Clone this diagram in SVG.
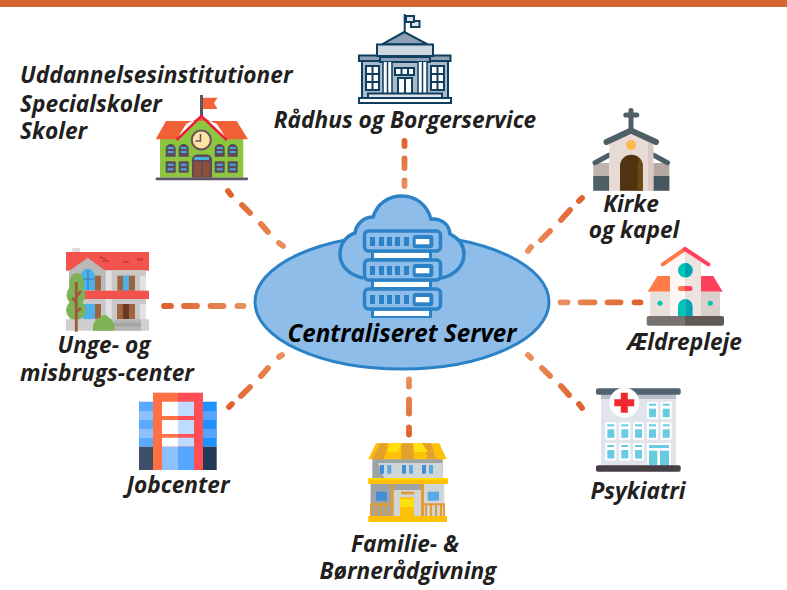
<svg xmlns="http://www.w3.org/2000/svg" xmlns:xlink="http://www.w3.org/1999/xlink" width="787" height="590" viewBox="0 0 787 590">
<style>
text{font-family:"Open Sans","Liberation Sans",sans-serif;font-weight:700;font-style:italic;font-size:22.7px;fill:#231f20}
.c{text-anchor:middle}
.dash{fill:none;stroke-width:5.8;stroke-linecap:round}
.sv{fill:#8dbde8;stroke:#2b82c6;stroke-width:3}
.blue{fill:#2b82c6}
.ln{stroke:#0f3f5f;stroke-width:2}
.win{fill:#5a4a5c}
.pane{fill:#4aa8d8}
.wb{fill:#fff}
.wp{fill:#69cbe0}
.o{fill:#e59a34}
.y{fill:#ffc107}
</style>
<defs>
<linearGradient id="gT" gradientUnits="userSpaceOnUse" x1="405" y1="138" x2="405" y2="189"><stop offset="0" stop-color="#e0602b"/><stop offset="1" stop-color="#e99160"/></linearGradient>
<linearGradient id="gB" gradientUnits="userSpaceOnUse" x1="409" y1="377" x2="409" y2="437"><stop offset="0" stop-color="#e99160"/><stop offset="1" stop-color="#e0602b"/></linearGradient>
<linearGradient id="gL" gradientUnits="userSpaceOnUse" x1="162" y1="306" x2="246" y2="306"><stop offset="0" stop-color="#e0602b"/><stop offset="1" stop-color="#e99160"/></linearGradient>
<linearGradient id="gR" gradientUnits="userSpaceOnUse" x1="558" y1="302" x2="643" y2="302"><stop offset="0" stop-color="#e99160"/><stop offset="1" stop-color="#e0602b"/></linearGradient>
<linearGradient id="gTL" gradientUnits="userSpaceOnUse" x1="226" y1="189" x2="285" y2="248"><stop offset="0" stop-color="#e0602b"/><stop offset="1" stop-color="#e99160"/></linearGradient>
<linearGradient id="gTR" gradientUnits="userSpaceOnUse" x1="584" y1="196" x2="527" y2="253"><stop offset="0" stop-color="#e0602b"/><stop offset="1" stop-color="#e99160"/></linearGradient>
<linearGradient id="gBR" gradientUnits="userSpaceOnUse" x1="526" y1="353" x2="584" y2="410"><stop offset="0" stop-color="#e99160"/><stop offset="1" stop-color="#e0602b"/></linearGradient>
<linearGradient id="gBL" gradientUnits="userSpaceOnUse" x1="284" y1="353" x2="227" y2="409"><stop offset="0" stop-color="#e99160"/><stop offset="1" stop-color="#e0602b"/></linearGradient>
<g id="rack">
<rect x="371" y="250" width="61" height="10" class="blue"/>
<rect x="374" y="252.7" width="55" height="5.3" fill="#fff"/>
<rect class="sv" x="364.5" y="231" width="76" height="20" rx="4" style="stroke-width:3.5"/>
<rect class="blue" x="370" y="237" width="5" height="9"/><rect class="blue" x="379" y="237" width="5" height="9"/><rect class="blue" x="387" y="237" width="5" height="9"/><rect class="blue" x="395" y="237" width="5" height="9"/><rect class="blue" x="404" y="237" width="5" height="9"/>
<rect class="blue" x="412.7" y="235" width="20.6" height="13.3" rx="3"/>
<rect x="415.7" y="239" width="13.6" height="5.3" fill="#fff"/>
</g>
<g id="archW"><path class="win" d="M-5 12.7V5a5 5 0 0 1 10 0v7.7z"/><rect class="pane" x="-3" y="3" width="6" height="2"/><rect class="pane" x="-3" y="7" width="6" height="2"/></g>
<g id="sqW"><rect class="win" x="-5" y="0" width="10" height="11.4" rx="1"/><rect class="pane" x="-3" y="2.5" width="6" height="2"/><rect class="pane" x="-3" y="7" width="6" height="2"/></g>
<g id="hw"><rect class="wb" width="11" height="17.5" rx="1"/><rect class="wp" x="2" y="2" width="7" height="2"/><rect class="wp" x="2" y="7" width="7" height="8.5"/></g>
</defs>
<rect id="topbar" x="0" y="0" width="787" height="7" fill="#d4662f"/>
<g id="connectors">
<path class="dash" stroke="url(#gT)" d="M404.5 141V146M404.5 158.500V168M404.500 180.500V186"/>
<path class="dash" stroke="url(#gB)" d="M409 379.500V386.500M409 399.500V413.500M409 427.500V434.500"/>
<path class="dash" stroke="url(#gL)" d="M164 306H171M184 306H197M210.500 306H223.500M237.500 306H243.500"/>
<path class="dash" stroke="url(#gR)" d="M560.500 302.300H567.500M580.500 302.300H594.500M607.500 302.300H620.500M634.500 302.300H640.500"/>
<path class="dash" stroke="url(#gTL)" d="M228 191L231 195M242 205L250 213M261 224L268 232M279 243L283 246"/>
<path class="dash" stroke="url(#gTR)" d="M582 198L579 201M570 210L561 220M550 231L541 240M531 247L528 251"/>
<path class="dash" stroke="url(#gBR)" d="M528 355L531 358M542 368L550 376M561 386L569 395M579 404L582 408"/>
<path class="dash" stroke="url(#gBL)" d="M282 355L279 357M268 368L261 376M250 387L241 396M232 404L229 407"/>
</g>
<g id="node-server">
<ellipse cx="402" cy="302" rx="147" ry="67" class="sv"/>
<path class="sv" style="stroke-width:3.5" d="M363 278C349 275 340 266 340 254C340 244 346 236 355 233C356 224 364 217 373 217C377 204 388 196 402 196C416 196 427 205 431 219C441 218 449 224 450 234C458 238 464 245 464 254C464 266 454 276 441 278"/>
<use xlink:href="#rack" href="#rack"/>
<use xlink:href="#rack" href="#rack" y="29"/>
<use xlink:href="#rack" href="#rack" y="58"/>
<text class="c" x="402" y="342.300" style="fill:#000;font-size:24.2px">Centraliseret Server</text>
</g>
<g id="node-raadhus">
<path d="M404.700 14V32" class="ln" fill="none"/>
<rect x="411" y="21" width="8.500" height="6" fill="#dfe5ea" class="ln"/>
<rect x="406" y="16" width="8" height="6" fill="#dfe5ea" class="ln"/>
<path d="M404.300 32L382 44.300H427.700z" fill="#8da0b5" class="ln"/>
<rect x="362" y="61" width="86" height="37" fill="#a9bacb" class="ln"/>
<rect x="359" y="55.500" width="91.500" height="5.500" fill="#8da0b5" class="ln"/>
<rect x="377" y="44.500" width="56" height="11.500" fill="#cfd8e0" class="ln"/>
<rect x="380" y="57" width="50" height="5" fill="#8da0b5" class="ln"/>
<rect x="366" y="66" width="13" height="24" fill="#fff" class="ln"/>
<path d="M372.500 66V90M366 74H379M366 82H379" class="ln" fill="none"/>
<rect x="431" y="66" width="13" height="24" fill="#fff" class="ln"/>
<path d="M437.500 66V90M431 74H444M431 82H444" class="ln" fill="none"/>
<rect x="383" y="62" width="9" height="31" fill="#fff"/><path d="M387.500 62V93M383 62V93M392 62V93" class="ln" style="stroke-width:1.5"/>
<rect x="418" y="62" width="9" height="31" fill="#fff"/><path d="M422.500 62V93M418 62V93M427 62V93" class="ln" style="stroke-width:1.5"/>
<rect x="395" y="68" width="19" height="7" fill="#fff" class="ln"/><path d="M401.500 68V75M408 68V75" class="ln"/>
<rect x="398" y="78" width="14" height="16" fill="#fff" class="ln"/><path d="M405 78V94" class="ln"/>
<rect x="368" y="93.500" width="74" height="4.500" fill="#dfe5ea" class="ln"/>
<rect x="359" y="98" width="92" height="5" fill="#fff" class="ln"/>
<text class="c" x="405" y="127.700">Rådhus og Borgerservice</text>
</g>
<g id="node-uddannelse">
<path d="M160 139H176.700L201.300 116L226.700 139H243.300V177.500H160z" fill="#8cc63f"/>
<path d="M155.700 139.300L166 121H188L176.700 139.300zM248 139.300L236.700 121H215L226.700 139.300z" fill="#f26036"/>
<path d="M166 121H236.700L230 130L201.500 117L172 130z" fill="#f26036"/>
<path d="M201.500 95V117" stroke="#5a5568" stroke-width="3" fill="none"/>
<path d="M203 97.700H217.500L214 103L217.500 109H203z" fill="#f4623a"/>
<path d="M176.700 140L201.300 116L226.700 140" fill="none" stroke="#ee1c3a" stroke-width="2.500"/>
<circle cx="201.300" cy="140" r="9.500" fill="#ffe3a0" stroke="#6b4f5f" stroke-width="2"/>
<path d="M200.500 134V141H195.500" fill="none" stroke="#5a5568" stroke-width="1.500"/>
<use xlink:href="#archW" href="#archW" x="170.700" y="144"/><use xlink:href="#archW" href="#archW" x="183.700" y="144"/><use xlink:href="#archW" href="#archW" x="219.700" y="144"/><use xlink:href="#archW" href="#archW" x="232.700" y="144"/>
<use xlink:href="#sqW" href="#sqW" x="170.700" y="161.300"/><use xlink:href="#sqW" href="#sqW" x="183.700" y="161.300"/><use xlink:href="#sqW" href="#sqW" x="219.700" y="161.300"/><use xlink:href="#sqW" href="#sqW" x="232.700" y="161.300"/>
<path d="M192 177.500V160a5 5 0 0 1 5-5.500h10a5 5 0 0 1 5 5.500v17.500z" fill="#5f4a55"/>
<rect x="194.300" y="157" width="14.700" height="3" fill="#4ab0dc"/>
<rect x="194" y="162" width="7" height="15.500" fill="#8b4f3c"/><rect x="202.500" y="162" width="7" height="15.500" fill="#8b4f3c"/>
<rect x="155.700" y="177.500" width="92.300" height="2.700" rx="1" fill="#5a5568"/>
<text x="20" y="83.300">Uddannelsesinstitutioner</text>
<text x="20" y="111.700">Specialskoler</text>
<text x="20" y="139">Skoler</text>
</g>
<g id="node-unge">
<rect x="72.300" y="248" width="7.700" height="9" fill="#ddd"/>
<rect x="66" y="252" width="83" height="18.700" fill="#f4524d"/>
<path d="M100 256l6 2-1 2-6-2zM103 260h6v2h-6zM123 261h6v2h-6zM137 258h6v3h-6z" fill="#c9403c"/>
<rect x="69.300" y="270" width="76.700" height="50" fill="#c8c8c8"/>
<path d="M69 271L87.700 257.700L105.700 271V291H69z" fill="#b9b9b9"/>
<path d="M80.700 290V276a7 7 0 0 1 14.300 0v14z" fill="#4db2e8"/>
<path d="M88 270V290M81 279H95" stroke="#2f7fb8" stroke-width="1.200"/>
<rect x="95" y="275.700" width="6" height="15" fill="#a0633f"/>
<rect x="105.700" y="271" width="6" height="20" fill="#e2e2e2"/>
<rect x="117.300" y="275.700" width="17.700" height="15" fill="#a0633f"/><rect x="123" y="275.700" width="6" height="15" fill="#4db2e8"/>
<rect x="140" y="275.700" width="6" height="15" fill="#e2e2e2"/>
<rect x="83.300" y="290.700" width="65.700" height="8.300" fill="#f4524d"/>
<rect x="83" y="304" width="12" height="15.300" fill="#4db2e8"/>
<rect x="95" y="304" width="6" height="15.300" fill="#a0633f"/>
<rect x="105.700" y="299" width="6" height="20.300" fill="#e2e2e2"/>
<rect x="117" y="304" width="18" height="15.300" fill="#a0633f"/><rect x="123" y="304" width="6" height="15.300" fill="#6b3a22"/>
<rect x="140" y="304" width="6" height="15.300" fill="#e2e2e2"/>
<rect x="66" y="319.300" width="83" height="11.400" fill="#cfcfcf"/>
<rect x="114" y="319.300" width="27" height="11.400" fill="#b5b5b5"/><rect x="114" y="323" width="27" height="3.500" fill="#a5a5a5"/>
<ellipse cx="76.700" cy="283" rx="7.500" ry="10" fill="#7db356"/><ellipse cx="76" cy="295" rx="9.500" ry="10" fill="#7db356"/><ellipse cx="76" cy="310" rx="10" ry="10" fill="#7db356"/>
<path d="M76.300 282V331.700M76.300 297L81 291M76.300 302L72 298M76.300 312L81 308" stroke="#a0593a" stroke-width="2.800" fill="none"/>
<path d="M93 330.700C92 323 96 318 100 318C102 314 107 314 109 318C113 319 116 325 114 330.700z" fill="#7db356"/>
<text class="c" x="104" y="353">Unge- og</text>
<text class="c" x="107" y="380.700">misbrugs-center</text>
</g>
<g id="node-jobcenter">
<rect x="139" y="401.700" width="14" height="45" fill="#5aa9ff"/><rect x="139" y="411" width="14" height="9" fill="#8cc0ff"/><rect x="139" y="429" width="14" height="9" fill="#8cc0ff"/>
<rect x="139" y="446.700" width="14" height="23.300" fill="#3d5068"/>
<rect x="203" y="401.700" width="13.700" height="45" fill="#1e90ff"/><rect x="203" y="411" width="13.700" height="9" fill="#57a5ff"/><rect x="203" y="429" width="13.700" height="9" fill="#57a5ff"/>
<rect x="203" y="446.700" width="13.700" height="23.300" fill="#253a54"/>
<rect x="153" y="392.700" width="25" height="77.300" fill="#ff7043"/><rect x="178" y="392.700" width="25" height="77.300" fill="#ff4f55"/>
<rect x="162" y="401.700" width="16" height="14.300" fill="#fff"/><rect x="178" y="401.700" width="16" height="14.300" fill="#bfdbff"/>
<rect x="162" y="420" width="16" height="14" fill="#fff"/><rect x="178" y="420" width="16" height="14" fill="#bfdbff"/>
<rect x="162" y="437.700" width="16" height="9" fill="#fff"/><rect x="178" y="437.700" width="16" height="9" fill="#bfdbff"/>
<rect x="162" y="446.700" width="16" height="23.300" fill="#8cc0ff"/><rect x="178" y="446.700" width="16" height="23.300" fill="#57a5ff"/>
<text class="c" x="178" y="493.300">Jobcenter</text>
</g>
<g id="node-familie">
<rect x="372.300" y="459" width="70.400" height="20" fill="#9ea4a6"/>
<path d="M378 463H442.700V478H384z" fill="#d0d5d8"/>
<rect x="380" y="465" width="4" height="8.700" fill="#3f8fd8"/><rect x="387.300" y="465" width="4" height="8.700" fill="#5aa9e6"/><rect x="402" y="465" width="4" height="8.700" fill="#3f8fd8"/><rect x="409" y="465" width="4" height="8.700" fill="#5aa9e6"/><rect x="422" y="465" width="4" height="8.700" fill="#3f8fd8"/><rect x="429" y="465" width="4" height="8.700" fill="#5aa9e6"/>
<path d="M368.300 459.300L376 443.300H439.300L446.700 459.300z" fill="#ffc107"/>
<path d="M380 443.300H388L384 459H372zM401.500 443.300H413L414 459H401zM422 443.300H431L436 459H428z" fill="#e3a02a"/>
<path d="M390 443.300H401.500L398 452H388zM413 443.300H422L428 452H414z" fill="#ffe00f"/>
<rect x="370.700" y="484" width="73.600" height="32" fill="#d0d5d8"/><rect x="370.700" y="484" width="21" height="32" fill="#9ea4a6"/><rect x="393" y="484" width="28" height="6" fill="#9ea4a6"/>
<rect x="376" y="491.700" width="11" height="9" fill="#3f8fd8"/><rect x="427.700" y="491.700" width="11.300" height="9" fill="#5aa9e6"/>
<rect x="391" y="484" width="2.700" height="32" class="o"/><rect x="421" y="484" width="3" height="32" class="o"/>
<rect x="401" y="491.700" width="13" height="2.600" class="o"/>
<rect x="400" y="497.300" width="14" height="19" class="y"/><rect x="400" y="499" width="14" height="8" fill="#ffe00f"/>
<path d="M370 504.300H393M421 504.300H445" stroke="#e59a34" stroke-width="2" fill="none"/>
<path d="M371 504V516M376 504V516M381 504V516M386 504V516M426 504V516M431 504V516M436 504V516M441 504V516M444 504V516" stroke="#e59a34" stroke-width="2" fill="none"/>
<rect x="368.300" y="478" width="79.700" height="6" class="y"/><rect x="368.300" y="478" width="79.700" height="2" fill="#ffd900"/>
<rect x="368.300" y="516" width="78.700" height="6" class="y"/>
<text class="c" x="405" y="551.700">Familie- &amp;</text>
<text class="c" x="408" y="579">Børnerådgivning</text>
</g>
<g id="node-psykiatri">
<rect x="601" y="394" width="75" height="72" fill="#e1e4ea"/><rect x="601" y="394" width="75" height="5" fill="#b9bfc9"/>
<rect x="596" y="388.300" width="84.700" height="6.400" rx="2" fill="#52636f"/>
<circle cx="624.300" cy="402.700" r="15" fill="#fff"/>
<path d="M620.800 392.700h7v6.500h6.500v7h-6.500v6.500h-7v-6.500h-6.500v-7h6.500z" fill="#f0282d"/>
<use xlink:href="#hw" href="#hw" x="647" y="401.700"/><use xlink:href="#hw" href="#hw" x="660.700" y="401.700"/>
<use xlink:href="#hw" href="#hw" x="605.300" y="422.300"/><use xlink:href="#hw" href="#hw" x="619.300" y="422.300"/><use xlink:href="#hw" href="#hw" x="633" y="422.300"/><use xlink:href="#hw" href="#hw" x="647" y="422.300"/><use xlink:href="#hw" href="#hw" x="660.700" y="422.300"/>
<use xlink:href="#hw" href="#hw" x="605.300" y="443"/><use xlink:href="#hw" href="#hw" x="619.300" y="443"/><use xlink:href="#hw" href="#hw" x="633" y="443"/>
<rect x="647" y="443" width="24" height="22.500" fill="#fff"/>
<rect x="649" y="445" width="20" height="3" class="wp"/><rect x="649" y="450.700" width="8.300" height="14.800" class="wp"/><rect x="660" y="450.700" width="9" height="14.800" class="wp"/>
<rect x="596" y="465.300" width="84.700" height="6.400" rx="2" fill="#463f45"/>
<text class="c" x="638" y="499">Psykiatri</text>
</g>
<g id="node-aeldrepleje">
<path d="M670 261L685 251V316.700H670z" fill="#fdf6f4"/><path d="M685 251L701 261V316.700H685z" fill="#ede3df"/>
<path d="M662.700 264.300L685 249" fill="none" stroke="#ff7a45" stroke-width="4" stroke-linecap="round"/>
<path d="M685 249L708.300 264.300" fill="none" stroke="#ff3f5e" stroke-width="4" stroke-linecap="round"/>
<circle cx="685.300" cy="270.300" r="7.300" fill="#00c4b4"/><path d="M685.300 263a7.300 7.300 0 0 1 0 14.600z" fill="#00a3b4"/>
<path d="M647.700 291.700L657.300 276H670V291.700z" fill="#ff7a45"/><path d="M701 276H713.300L722.700 291.700H701z" fill="#ff3f5e"/>
<rect x="650" y="291.700" width="20" height="25" fill="#e8e0db"/><rect x="701" y="291.700" width="19" height="25" fill="#d9d0cb"/>
<circle cx="660" cy="303.300" r="2.500" fill="#00c4b4"/><circle cx="710.300" cy="303.300" r="2.500" fill="#00c4b4"/>
<path d="M685 286H680.500a2.500 2.500 0 0 0 0 5H685z" fill="#ff7a45"/><path d="M685 286H690a2.500 2.500 0 0 1 0 5H685z" fill="#ff3f5e"/>
<path d="M678 316.700V306a7.300 7.300 0 0 1 7.300-7V316.700z" fill="#00c4b4"/><path d="M685.300 299a7.300 7.300 0 0 1 7.300 7V316.700H685.300z" fill="#00a3b4"/>
<path d="M685 316H648.700a2 2 0 0 0-2 2V323.700a2 2 0 0 0 2 2H685z" fill="#787370"/><path d="M685 316H722a2 2 0 0 1 2 2V323.700a2 2 0 0 1-2 2H685z" fill="#5f5a58"/>
<text x="627" y="350">Ældrepleje</text>
</g>
<g id="node-kirke">
<rect x="593.300" y="163" width="16" height="27.700" fill="#bfb3ae"/><rect x="653.300" y="163" width="16" height="27.700" fill="#b5a8a3"/>
<rect x="593.300" y="176" width="16" height="14.700" fill="#4f5f66"/><rect x="653.300" y="176" width="16" height="14.700" fill="#465560"/>
<path d="M595 162.700L609.300 155M667.500 162.700L653.300 155" stroke="#4f5f66" stroke-width="5" stroke-linecap="round" fill="none"/>
<path d="M609.300 141.700L631 133.300L653.300 141.700V190.700H609.300z" fill="#e8dad5"/><rect x="648" y="141" width="5.300" height="49.700" fill="#d9c8c3"/>
<path d="M631 110.500V129M625.800 115H636.800" stroke="#4f5f66" stroke-width="5" stroke-linecap="round" fill="none"/>
<path d="M606.500 142L631 130.500L656 142" stroke="#4f5f66" stroke-width="6" stroke-linecap="round" stroke-linejoin="round" fill="none"/>
<circle cx="631" cy="145" r="5" fill="#fdb94b"/>
<path d="M620 190.700V166a11.300 11.300 0 0 1 22.700 0v24.700z" fill="#503310"/>
<path d="M636 155.800a11.300 11.300 0 0 1 6.700 10.200v24.700H637.500V166a9 9 0 0 0-1.500-10.200z" fill="#6b4716"/>
<text class="c" x="631" y="211.700">Kirke</text>
<text class="c" x="634" y="238.300">og kapel</text>
</g>
</svg>
